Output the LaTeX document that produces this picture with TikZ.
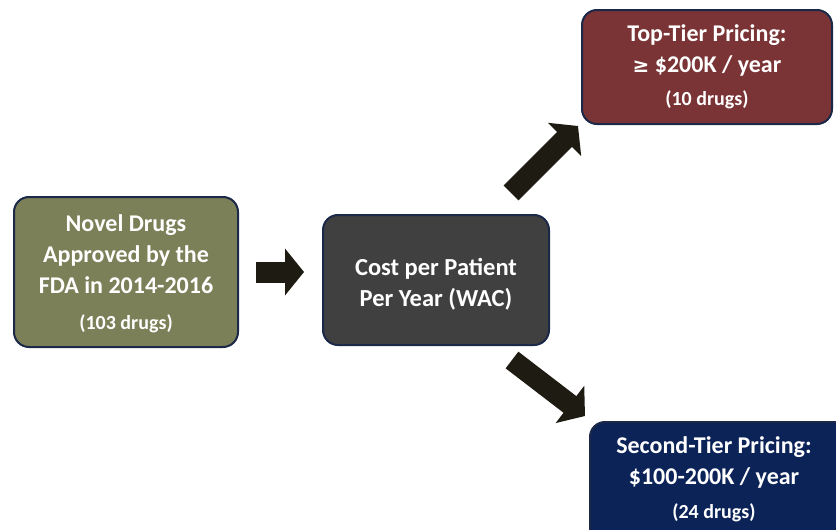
\documentclass[tikz,border=0pt]{standalone}
\usepackage{fontspec}
\setmainfont{Carlito}
\newfontfamily\symfont{DejaVu Sans}
\usetikzlibrary{arrows.meta,calc}
\definecolor{olivebox}{HTML}{7B8058}
\definecolor{graybox}{HTML}{404040}
\definecolor{maroonbox}{HTML}{7A3436}
\definecolor{navybox}{HTML}{0C2358}
\definecolor{edgeblue}{HTML}{1C2848}
\definecolor{arrowdark}{HTML}{1E1B12}
\tikzset{
  box/.style={draw=edgeblue, line width=2pt, rounded corners=15pt, inner sep=0pt},
  lbl/.style={text=white, align=center, inner sep=0pt, font=\bfseries\fontsize{24}{31}\selectfont},
  small/.style={text=white, inner sep=0pt, font=\bfseries\fontsize{20}{22}\selectfont},
  blockarrow/.style={draw=arrowdark, line width=21pt,
    -{Triangle[length=19pt,width=46pt]}}
}
\begin{document}
\begin{tikzpicture}[x=1pt,y=-1pt]
\useasboundingbox (0,0) rectangle (836,530);
\clip (0,0) rectangle (836,530);
\node[box, fill=olivebox, minimum width=224pt, minimum height=150pt] (novel) at (126,272) {};
\node[lbl] (novelt) at (126,254) {Novel Drugs\\Approved by the\\FDA in 2014-2016};
\node[small] (novels) at (126,324) {(103 drugs)};

\node[box, fill=graybox, minimum width=226pt, minimum height=130pt] (cost) at (436,280) {};
\node[lbl, font=\bfseries\fontsize{24.5}{31}\selectfont] (costt) at (436,284) {Cost per Patient\\Per Year (WAC)};

\node[box, fill=maroonbox, minimum width=250pt, minimum height=114pt] (top) at (707,67) {};
\node[lbl] (topt) at (707,50) {Top-Tier Pricing:\\{\symfont\fontsize{20}{31}\selectfont ≥} \$200K / year};
\node[small] (tops) at (707,100) {(10 drugs)};

\node[box, fill=navybox, minimum width=260pt, minimum height=130pt] (second) at (720,487) {};
\node[lbl] (secondt) at (714,462) {Second-Tier Pricing:\\\$100-200K / year};
\node[small] (seconds) at (714,513) {(24 drugs)};

\coordinate (a1s) at (256,272);
\coordinate (a1e) at (304,272);
\draw[blockarrow] (a1s) -- (a1e);
\coordinate (a2s) at (511,193);
\coordinate (a2e) at (578,126);
\draw[blockarrow] (a2s) -- (a2e);
\coordinate (a3s) at (512,360);
\coordinate (a3e) at (585,416);
\draw[blockarrow] (a3s) -- (a3e);
\end{tikzpicture}
\end{document}
